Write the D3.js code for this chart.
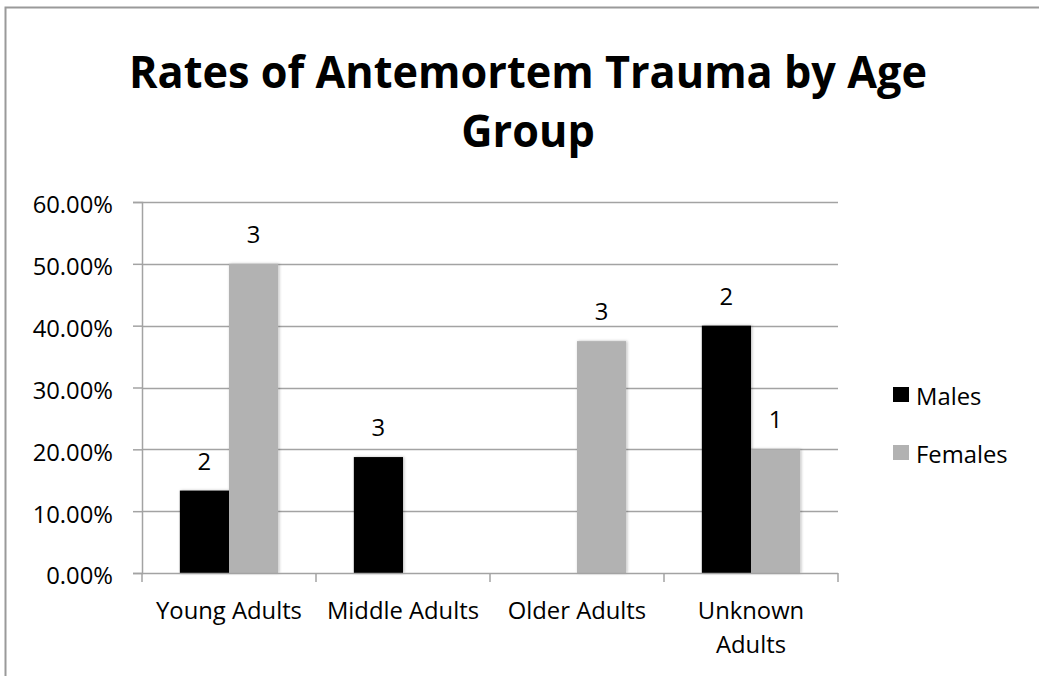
<!DOCTYPE html>
<html>
<head>
<meta charset="utf-8">
<script src="https://cdn.jsdelivr.net/npm/d3@7"></script>
<style>
  html, body { margin: 0; padding: 0; background: #fff; }
  svg text { font-family: "Open Sans", Lato, sans-serif; fill: #000; }
</style>
</head>
<body>
<svg id="chart" width="1039" height="676"></svg>
<script>
// Age groups on the x axis
const categories = ["Young Adults", "Middle Adults", "Older Adults", "Unknown Adults"];
// Axis label lines for each age group
const categoryLabelLines = [["Young Adults"], ["Middle Adults"], ["Older Adults"], ["Unknown", "Adults"]];
// Series names
const seriesNames = ["Males", "Females"];
// Rates of antemortem trauma (fractions); null = no bar
const malesRate = [0.1333, 0.1875, null, 0.40];
const femalesRate = [0.50, null, 0.375, 0.20];
// Counts shown above the bars
const malesCount = [2, 3, null, 2];
const femalesCount = [3, null, 3, 1];
// Y axis ticks
const yTicks = [0, 0.1, 0.2, 0.3, 0.4, 0.5, 0.6];
// Title lines
const titleLines = ["Rates of Antemortem Trauma by Age", "Group"];

const colors = { Males: "#000000", Females: "#b2b2b2" };
const gridColor = "#a3a3a3";
const fontSize = 23.8;

const svg = d3.select("#chart");

// outer chart frame
svg.append("rect")
  .attr("x", 5.5).attr("y", 7.5)
  .attr("width", 1100).attr("height", 700)
  .attr("fill", "none").attr("stroke", "#9a9a9a").attr("stroke-width", 2);

// soft shadow used by the bars
const defs = svg.append("defs");
const f = defs.append("filter").attr("id", "barShadow")
  .attr("x", "-20%").attr("y", "-5%").attr("width", "140%").attr("height", "110%");
f.append("feDropShadow").attr("dx", 1).attr("dy", 0).attr("stdDeviation", 1.6)
  .attr("flood-color", "#000").attr("flood-opacity", 0.28);

// title, widened slightly to a wide bold face
const title = svg.append("text")
  .attr("text-anchor", "middle")
  .attr("font-family", "Lato, sans-serif")
  .attr("font-weight", "bold")
  .attr("font-size", 45);
titleLines.forEach((line, i) => {
  title.append("tspan").attr("x", 0).attr("y", 88 + i * 59).text(line);
});
const firstWidth = title.select("tspan").node().getComputedTextLength();
const stretch = 798 / firstWidth;
title.attr("transform", `translate(528,0) scale(${stretch},1)`);

// scales
const plotLeft = 142, plotRight = 838, plotTop = 202, plotBottom = 573;
const x = d3.scaleBand().domain(categories).range([plotLeft, plotRight]).padding(0);
const x1 = d3.scaleBand().domain(seriesNames).range([0, x.bandwidth()]).paddingInner(0).paddingOuter(0.77);
const y = d3.scaleLinear().domain([0, 0.6]).range([plotBottom, plotTop]);

// horizontal gridlines
svg.append("g").selectAll("line").data(yTicks.filter(d => d > 0)).join("line")
  .attr("x1", plotLeft).attr("x2", plotRight)
  .attr("y1", d => Math.round(y(d)) + 0.5).attr("y2", d => Math.round(y(d)) + 0.5)
  .attr("stroke", gridColor).attr("stroke-width", 1.5);

// y axis
const yAxis = svg.append("g")
  .attr("transform", `translate(${plotLeft},0)`)
  .call(d3.axisLeft(y).tickValues(yTicks).tickFormat(d3.format(".2%")).tickSize(9).tickPadding(20));
yAxis.select(".domain").attr("stroke", gridColor).attr("stroke-width", 1.5);
yAxis.selectAll(".tick line").attr("stroke", gridColor).attr("stroke-width", 1.5);
yAxis.selectAll(".tick text")
  .attr("font-size", fontSize)
  .attr("font-family", "'Open Sans', sans-serif")
  .attr("fill", "#000")
  .attr("dy", "0.46em");

// bars
const rows = [];
categories.forEach((c, i) => {
  rows.push({ cat: c, series: "Males", value: malesRate[i], count: malesCount[i] });
  rows.push({ cat: c, series: "Females", value: femalesRate[i], count: femalesCount[i] });
});
const present = rows.filter(d => d.value != null);

svg.append("g").attr("filter", "url(#barShadow)")
  .selectAll("rect").data(present).join("rect")
  .attr("x", d => x(d.cat) + x1(d.series))
  .attr("width", x1.bandwidth())
  .attr("y", d => y(d.value))
  .attr("height", d => y(0) - y(d.value))
  .attr("fill", d => colors[d.series]);

// count labels
svg.append("g").selectAll("text").data(present.filter(d => d.count != null)).join("text")
  .attr("x", d => x(d.cat) + x1(d.series) + x1.bandwidth() / 2)
  .attr("y", d => y(d.value) - 21)
  .attr("text-anchor", "middle")
  .attr("font-size", fontSize)
  .text(d => d.count);

// x axis line with category separators
const boundaries = categories.map(c => x(c)).concat([plotRight]);
svg.append("line")
  .attr("x1", plotLeft).attr("x2", plotRight)
  .attr("y1", plotBottom + 0.5).attr("y2", plotBottom + 0.5)
  .attr("stroke", gridColor).attr("stroke-width", 1.5);
svg.append("g").selectAll("line").data(boundaries).join("line")
  .attr("x1", d => d).attr("x2", d => d)
  .attr("y1", plotBottom).attr("y2", plotBottom + 9)
  .attr("stroke", gridColor).attr("stroke-width", 1.5);

// category labels
const xl = svg.append("g").selectAll("text").data(categories).join("text")
  .attr("text-anchor", "middle")
  .attr("font-size", fontSize);
xl.each(function(c, i) {
  const t = d3.select(this);
  categoryLabelLines[i].forEach((line, j) => {
    t.append("tspan").attr("x", x(c) + x.bandwidth() / 2).attr("y", 619 + j * 34).text(line);
  });
});

// legend
const legend = svg.append("g").selectAll("g").data(seriesNames).join("g")
  .attr("transform", (d, i) => `translate(893,${387 + i * 58})`);
legend.append("rect").attr("width", 16).attr("height", 15).attr("fill", d => colors[d]);
legend.append("text").attr("x", 23).attr("y", 18).attr("font-size", fontSize).text(d => d);
</script>
</body>
</html>
